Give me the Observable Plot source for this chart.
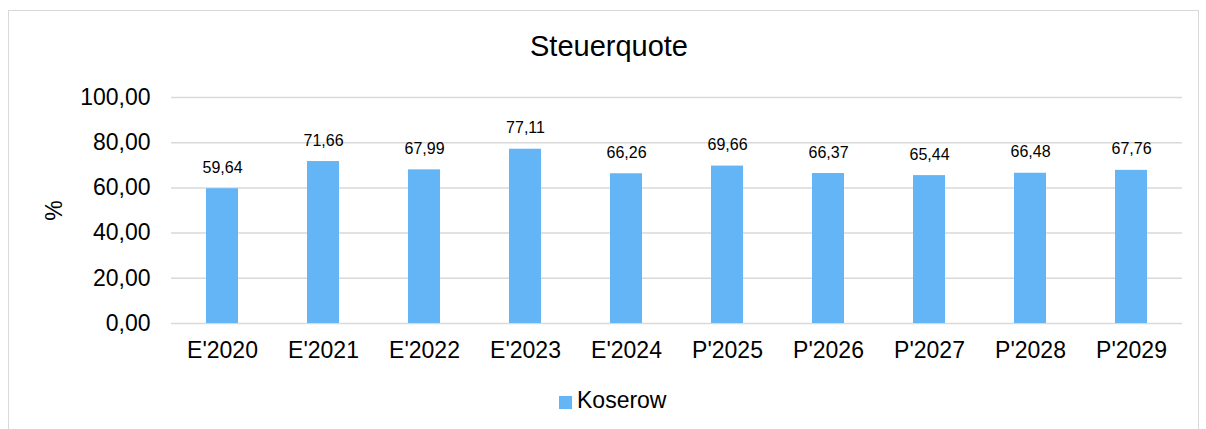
<!DOCTYPE html>
<html><head><meta charset="utf-8">
<script src="https://cdn.jsdelivr.net/npm/d3@7"></script>
<script src="https://cdn.jsdelivr.net/npm/@observablehq/plot@0.6"></script>
<style>
  html,body{margin:0;padding:0;background:#fff;}
  #wrap{position:relative;width:1206px;height:429px;overflow:hidden;font-family:"Liberation Sans",Arial,sans-serif;}
  #border{position:absolute;left:8px;top:10px;width:1191px;height:440px;border:1.5px solid #d9d9d9;box-sizing:border-box;}
  #title{position:absolute;left:0;width:1218px;top:32px;line-height:29px;text-align:center;font-size:29px;color:#000;}
  #sw{position:absolute;left:559px;top:396px;width:13px;height:13px;background:#64b5f6;}
  #legtext{position:absolute;left:577px;top:389px;font-size:23px;line-height:23px;color:#000;}
  #chart{position:absolute;left:0;top:0;}
</style>
</head><body>
<div id="wrap">
  <div id="border"></div>
  <div id="chart"></div>
  <div id="title">Steuerquote</div>
  <div id="sw"></div><div id="legtext"></div>
</div>
<script>
const categories = ["E'2020","E'2021","E'2022","E'2023","E'2024","P'2025","P'2026","P'2027","P'2028","P'2029"];
const values = [59.64, 71.66, 67.99, 77.11, 66.26, 69.66, 66.37, 65.44, 66.48, 67.76];
const yTicks = [0, 20, 40, 60, 80, 100];
const seriesName = "Koserow";

document.getElementById("legtext").textContent = seriesName;
const data = categories.map((c, i) => ({cat: c, value: values[i], series: seriesName}));
const fmt = v => d3.format(".2f")(v).replace(".", ",");

const chart = Plot.plot({
  width: 1206,
  height: 429,
  marginLeft: 171,
  marginRight: 24,
  marginTop: 97,
  marginBottom: 106,
  style: {fontFamily: "'Liberation Sans', Arial, sans-serif", background: "transparent", color: "#000"},
  x: {domain: categories, paddingInner: 0.68, paddingOuter: 0.34, label: null},
  y: {domain: [0, 100], ticks: yTicks, label: "%"},
  marks: [
    Plot.gridY(yTicks, {stroke: "#d9d9d9", strokeOpacity: 1, strokeWidth: 1.5}),
    Plot.barY(data, {x: "cat", y: "value", fill: "#64b5f6"}),
    Plot.text(data, {x: "cat", y: "value", text: d => fmt(d.value), dy: -21, fontSize: 16, fill: "#000"}),
    Plot.axisX({tickSize: 0, tickPadding: 18, fontSize: 23, label: null}),
    Plot.axisY(yTicks, {tickSize: 0, tickPadding: 21, fontSize: 23, tickFormat: fmt, label: "%", labelAnchor: "center", labelOffset: 126, labelArrow: "none"})
  ]
});
document.getElementById("chart").appendChild(chart);
</script>
</body></html>
